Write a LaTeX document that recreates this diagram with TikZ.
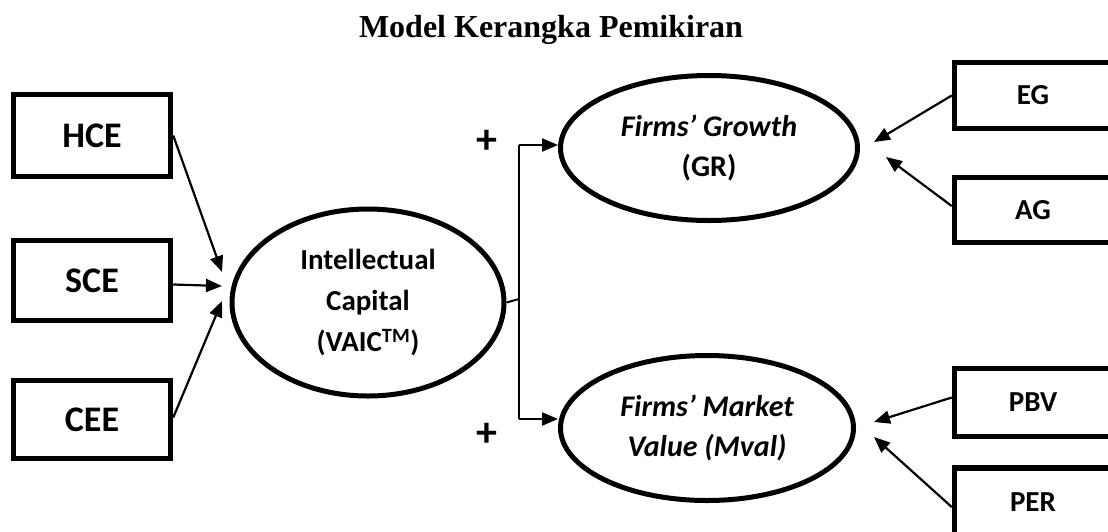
\documentclass[tikz,border=0pt]{standalone}
\usepackage{fontspec}
\setmainfont{Carlito}
\newfontfamily\titlefont{Liberation Serif}
\usetikzlibrary{arrows.meta,shapes.geometric}
\tikzset{
  box/.style={draw, line width=5.5pt, minimum width=157pt, inner sep=0pt, font=\fontsize{36}{40}\selectfont\bfseries},
  rbox/.style={draw, line width=5.5pt, minimum width=157pt, inner sep=0pt, font=\fontsize{29}{32}\selectfont\bfseries},
  oval/.style={draw, ellipse, line width=5pt, inner sep=0pt, align=center},
  arr/.style={line width=2.2pt, -{Triangle[length=16pt,width=13pt]}},
  link/.style={line width=2pt},
  plus/.style={font=\fontsize{42}{44}\selectfont\bfseries, inner sep=0pt}
}
\begin{document}
\begin{tikzpicture}[x=1pt,y=-1pt]
\path[use as bounding box] (0,0) rectangle (1108,531);
\clip (0,0) rectangle (1108,531);

\node[font=\titlefont\bfseries\fontsize{32}{38}\selectfont, anchor=base] (title) at (551,37) {Model Kerangka Pemikiran};

% left boxes
\node[box, minimum height=82pt] (HCE) at (92,135.5) {HCE};
\node[box, minimum height=80pt] (SCE) at (92,280.5) {SCE};
\node[box, minimum height=78pt] (CEE) at (92,419.5) {CEE};

% ellipses
\node[oval, minimum width=272pt, minimum height=187pt, font=\fontsize{29}{41}\selectfont\bfseries] (IC) at (368,302.5) {Intellectual\\Capital\\(VAIC\textsuperscript{TM})};
\node[oval, minimum width=297pt, minimum height=145pt, font=\fontsize{30}{40}\selectfont\bfseries] (GR) at (709,148) {\textit{Firms’ Growth}\\(GR)};
\node[oval, minimum width=293pt, minimum height=145pt, font=\fontsize{30}{40}\selectfont\bfseries\itshape] (MV) at (707,428) {Firms’ Market\\Value (Mval)};

% right boxes
\node[rbox, minimum height=66pt] (EG) at (1033,95.5) {EG};
\node[rbox, minimum height=65pt] (AG) at (1033,210) {AG};
\node[rbox, minimum height=68pt] (PBV) at (1033,402.5) {PBV};
\node[rbox, minimum height=68pt] (PER) at (1033,502) {PER};

% plus signs
\node[plus] (p1) at (487,142) {+};
\node[plus] (p2) at (487,435) {+};

% arrow tips (free ends)
\coordinate (t1) at (222,272);
\coordinate (t2) at (222,286);
\coordinate (t3) at (222,301);
\coordinate (r1) at (874,142);
\coordinate (r2) at (886,157);
\coordinate (r3) at (874,422);
\coordinate (r4) at (874,437);

% left arrows
\draw[arr] (HCE.east) -- (t1);
\draw[arr] ([yshift=-4pt]SCE.east) -- (t2);
\draw[arr] ([yshift=2pt]CEE.east) -- (t3);

% branch
\coordinate (j) at (519,299);
\coordinate (jt) at (519,145);
\coordinate (jb) at (519,419);
\draw[link] (IC.east) -- (j);
\draw[link] (jt) -- (jb);
\draw[arr] (jt) -- (GR.west |- jt);
\draw[arr] (jb) -- (MV.west |- jb);

% right arrows
\draw[arr] (EG.west) -- (r1);
\draw[arr] ([yshift=4pt]AG.west) -- (r2);
\draw[arr] ([yshift=5pt]PBV.west) -- (r3);
\draw[arr] ([yshift=-5pt]PER.west) -- (r4);
\end{tikzpicture}
\end{document}
